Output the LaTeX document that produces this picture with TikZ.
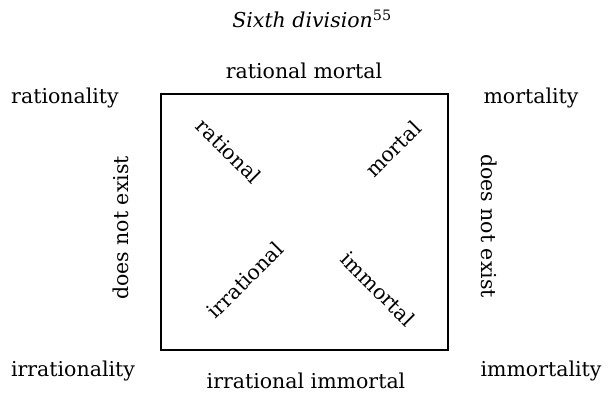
\documentclass[tikz,border=0pt]{standalone}
\usepackage{fontspec}
\setmainfont{DejaVu Serif}
\begin{document}
\begin{tikzpicture}[x=1pt,y=-1pt,
  lbl/.style={font=\fontsize{20.5}{23}\selectfont, inner sep=0pt},
  ttl/.style={font=\fontsize{20.5}{23}\selectfont\itshape, inner sep=0pt},
  box/.style={draw, line width=1.2pt}]
\useasboundingbox (0,0) rectangle (611,395);
\node[ttl] (title) at (312,19) {Sixth division\textsuperscript{\upshape 55}};
\draw[box] (161,94) rectangle (448,350);
\node[lbl] (rm) at (304,71) {rational mortal};
\node[lbl] (ir) at (306,381) {irrational immortal};
\node[lbl] (rty) at (65,98) {rationality};
\node[lbl] (mty) at (531,98) {mortality};
\node[lbl] (irty) at (73,371) {irrationality};
\node[lbl] (imty) at (541,371) {immortality};
\node[lbl, rotate=90] (dl) at (121,228) {does not exist};
\node[lbl, rotate=-90] (dr) at (489,226) {does not exist};
\node[lbl, rotate=-45] (r) at (229,151) {rational};
\node[lbl, rotate=45] (m) at (393,149) {mortal};
\node[lbl, rotate=45] (i) at (245,280) {irrational};
\node[lbl, rotate=-45] (im) at (378,289) {immortal};
\end{tikzpicture}
\end{document}
